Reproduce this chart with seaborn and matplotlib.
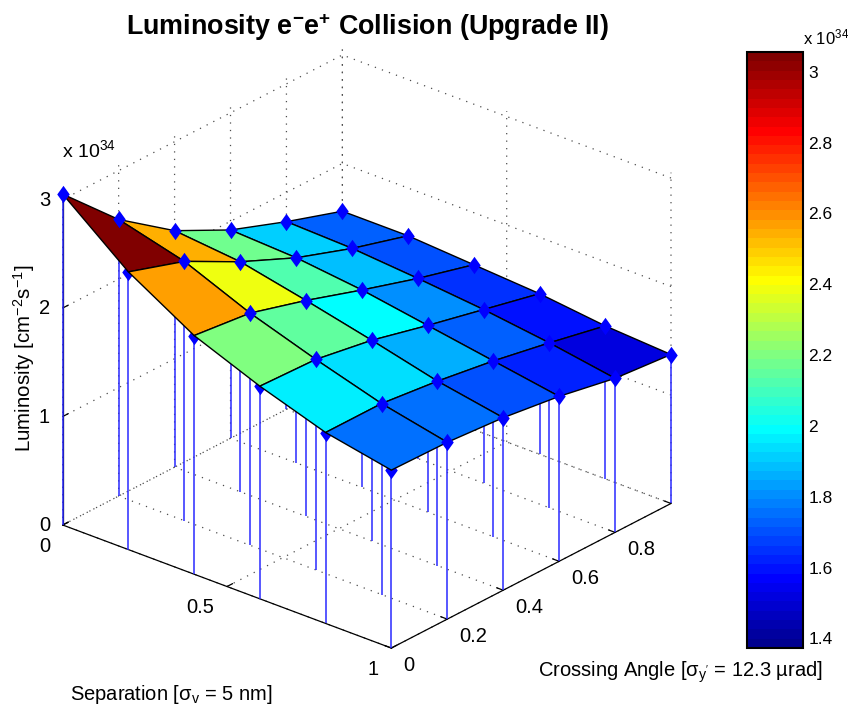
import numpy as np
import matplotlib
matplotlib.use("Agg")
import matplotlib.pyplot as plt
import seaborn as sns
from matplotlib.colors import LinearSegmentedColormap, Normalize
from matplotlib import cm
from mpl_toolkits.mplot3d import proj3d

separation = [0.0, 0.2, 0.4, 0.6, 0.8, 1.0]
crossing_angle = [0.0, 0.2, 0.4, 0.6, 0.8, 1.0]
lum_sep_00 = [3.05, 2.55, 2.18, 1.92, 1.73, 1.56]
lum_sep_02 = [2.56, 2.39, 2.12, 1.89, 1.71, 1.56]
lum_sep_04 = [2.20, 2.14, 1.99, 1.82, 1.66, 1.52]
lum_sep_06 = [1.96, 1.94, 1.85, 1.72, 1.60, 1.48]
lum_sep_08 = [1.76, 1.76, 1.70, 1.62, 1.52, 1.41]
lum_sep_10 = [1.64, 1.63, 1.59, 1.52, 1.42, 1.373]
color_min, color_max = 1.373, 3.056
x_ticks = [0, 0.5, 1]
x_labels = ["0", "0.5", "1"]
y_ticks = [0, 0.2, 0.4, 0.6, 0.8, 1.0]
y_labels = ["0", "0.2", "0.4", "0.6", "0.8", ""]
z_ticks = [0, 1, 2, 3]
z_labels = ["0", "1", "2", "3"]
cbar_ticks = [1.4, 1.6, 1.8, 2.0, 2.2, 2.4, 2.6, 2.8, 3.0]
cbar_labels = ["1.4", "1.6", "1.8", "2", "2.2", "2.4", "2.6", "2.8", "3"]

sns.set_theme(style="white", rc={
    "axes3d.grid": True, "text.color": "black", "axes.labelcolor": "black",
    "xtick.color": "black", "ytick.color": "black", "axes.edgecolor": "black",
})
FONT = "Liberation Sans"
plt.rcParams["font.family"] = [FONT, "DejaVu Sans"]
plt.rcParams["mathtext.fontset"] = "custom"
plt.rcParams["mathtext.rm"] = FONT
plt.rcParams["mathtext.it"] = FONT + ":italic"
plt.rcParams["mathtext.bf"] = FONT + ":bold"
plt.rcParams["mathtext.default"] = "regular"

W, H = 848, 711
fig = plt.figure(figsize=(W / 100, H / 100), dpi=100, facecolor="white")
ax = fig.add_axes([0, 0, 1, 1], projection="3d", proj_type="ortho", computed_zorder=False)
ax.patch.set_alpha(0)

Z = np.array([lum_sep_00, lum_sep_02, lum_sep_04, lum_sep_06, lum_sep_08, lum_sep_10])
S, A = np.meshgrid(separation, crossing_angle, indexing="ij")

# MATLAB's 64-level jet
jet = LinearSegmentedColormap.from_list(
    "matlab_jet",
    [(0, (0, 0, 0.5625)), (7 / 63, (0, 0, 1)), (23 / 63, (0, 1, 1)),
     (39 / 63, (1, 1, 0)), (55 / 63, (1, 0, 0)), (1, (0.5, 0, 0))], N=64)
norm = Normalize(color_min, color_max)

ax.set_xlim(0, 1)
ax.set_ylim(0, 1)
ax.set_zlim(0, 3.05)
ax.view_init(elev=26.1, azim=-49.6)

# stems below the surface; markers on the front edge are partly hidden by it
diamond = [(0, 1), (0.72, 0), (0, -1), (-0.72, 0), (0, 1)]
front = (A == 0) & (S > 0)
rest = ~front
for mask, mz in ((front, 1.5), (rest, 4)):
    c = ax.stem(S[mask], A[mask], Z[mask], linefmt="-", markerfmt="d", basefmt=" ", bottom=0)
    c.stemlines.set_color("#2a2aff")
    c.stemlines.set_linewidth(1.1)
    c.stemlines.set_zorder(1)
    c.markerline.set_marker(diamond)
    c.markerline.set_color("#0000ff")
    c.markerline.set_markersize(12.5)
    c.markerline.set_markeredgewidth(0)
    c.markerline.set_zorder(mz)

ax.plot_surface(S, A, Z, facecolors=jet(norm(Z)), shade=False, rstride=1, cstride=1,
                edgecolor="black", linewidth=1.0, antialiased=True, zorder=2)

ax.set_xticks(x_ticks, x_labels, fontsize=14.5, ha="right", va="center")
ax.set_yticks(y_ticks, y_labels, fontsize=14.5, ha="left", va="center")
ax.set_zticks(z_ticks, z_labels, fontsize=14.5, ha="center", va="center")
ax.zaxis.set_ticks_position("lower")
for axis in (ax.xaxis, ax.yaxis, ax.zaxis):
    axis.set_pane_color((1, 1, 1, 0))
    axis.pane.set_edgecolor((1, 1, 1, 0))
    axis.line.set_color("black")
    axis.line.set_linewidth(0.9)
    axis._axinfo["tick"]["inward_factor"] = 0.0
    axis._axinfo["tick"]["outward_factor"] = 0.25
    axis._axinfo["tick"]["linewidth"] = {True: 0.9, False: 0.5}
    axis._axinfo["grid"].update(color="0.3", linewidth=0.9, linestyle=(0, (1, 5)))
ax.tick_params(axis="x", pad=4)
ax.tick_params(axis="y", pad=2)
ax.tick_params(axis="z", pad=0)

# fit the box onto the reference's pixel frame
def px(x, y, z):
    X, Y, _ = proj3d.proj_transform(x, y, z, ax.get_proj())
    return ax.transData.transform((X, Y))

ax.set_box_aspect((431, 431, 368), zoom=1.0)
ax.apply_aspect()
p0, p1 = px(0, 0, 0), px(1, 1, 0)
ax.set_box_aspect((431, 431, 368), zoom=(671 - 62.7) / (p1[0] - p0[0]))
ax.apply_aspect()
p0 = px(0, 0, 0)
ax.set_position([(62.7 - p0[0]) / W, ((H - 525) - p0[1]) / H, 1, 1])

fig.text(368 / W, 1 - 27 / H, "Luminosity e$^{\\mathbf{-}}$e$^{\\mathbf{+}}$ Collision (Upgrade II)",
         fontsize=19.4, fontweight="bold", ha="center", va="center")
fig.text(62 / W, 1 - 150 / H, "x 10$^{34}$", fontsize=14, ha="left", va="center")
fig.text(24 / W, 1 - 358 / H, "Luminosity [cm$^{-2}$s$^{-1}$]", fontsize=14.8,
         rotation=90, ha="center", va="center")
fig.text(70 / W, 1 - 694 / H, "Separation [σ$_{v}$ = 5 nm]", fontsize=14.5, ha="left", va="center")
fig.text(538 / W, 1 - 672 / H, "Crossing Angle [σ$_{y'}$ = 12.3 µrad]", fontsize=14.5, ha="left", va="center")

cax = fig.add_axes([747 / W, 1 - 648 / H, 56 / W, 596 / H])
cb = fig.colorbar(cm.ScalarMappable(norm=norm, cmap=jet), cax=cax)
cb.set_ticks(cbar_ticks, labels=cbar_labels)
cax.tick_params(axis="y", which="both", direction="in", left=True, right=True,
                length=5, width=1, labelsize=12.5, color="black", pad=4)
cb.outline.set_edgecolor("black")
cb.outline.set_linewidth(1.5)
fig.text(803 / W, 1 - 37 / H, "x 10$^{34}$", fontsize=12, ha="left", va="center")

fig.savefig("out.png", dpi=100)
